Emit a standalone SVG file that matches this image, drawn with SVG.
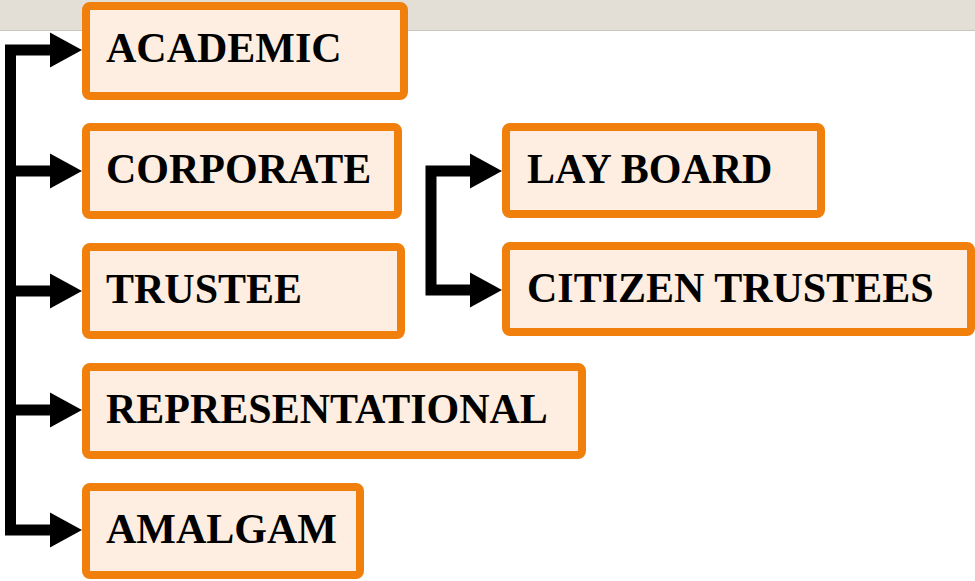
<svg xmlns="http://www.w3.org/2000/svg" width="975" height="581" viewBox="0 0 975 581">
<defs>
<style>
.box{fill:#fdeee1;stroke:#f07f0c;stroke-width:8}
.lbl{font-family:"Liberation Serif","Times New Roman",serif;font-weight:bold;font-size:42px;fill:#000}
.ln{fill:none;stroke:#000;stroke-width:11;stroke-linejoin:miter}
</style>
<polygon id="ah" points="0,-17.5 32,0 0,17.5" fill="#000"/>
</defs>
<rect x="0" y="0" width="975" height="30" fill="#e4dfd6"/>
<line x1="0" y1="30.5" x2="975" y2="30.5" stroke="#c9c5bd" stroke-width="1"/>
<g id="connectors">
<polyline class="ln" points="52,50 10.5,50 10.5,530 52,530"/>
<line class="ln" x1="10.5" y1="171" x2="52" y2="171"/>
<line class="ln" x1="10.5" y1="291" x2="52" y2="291"/>
<line class="ln" x1="10.5" y1="410" x2="52" y2="410"/>
<polyline class="ln" points="472,171 431,171 431,290 472,290"/>
<use href="#ah" x="50" y="50"/>
<use href="#ah" x="50" y="171"/>
<use href="#ah" x="50" y="291"/>
<use href="#ah" x="50" y="410"/>
<use href="#ah" x="50" y="530"/>
<use href="#ah" x="470" y="171"/>
<use href="#ah" x="470" y="290"/>
</g>
<g id="academic"><rect class="box" x="86" y="6" width="318" height="90" rx="4"/><text class="lbl" x="106" y="62">ACADEMIC</text></g>
<g id="corporate"><rect class="box" x="86" y="127" width="312" height="88" rx="4"/><text class="lbl" x="106" y="183">CORPORATE</text></g>
<g id="trustee"><rect class="box" x="86" y="247" width="315" height="88" rx="4"/><text class="lbl" x="106" y="303">TRUSTEE</text></g>
<g id="representational"><rect class="box" x="86" y="367" width="496" height="88" rx="4"/><text class="lbl" x="106" y="423">REPRESENTATIONAL</text></g>
<g id="amalgam"><rect class="box" x="86" y="487" width="274" height="88" rx="4"/><text class="lbl" x="106" y="543">AMALGAM</text></g>
<g id="lay-board"><rect class="box" x="506" y="127" width="315" height="87" rx="4"/><text class="lbl" x="527" y="183">LAY BOARD</text></g>
<g id="citizen-trustees"><rect class="box" x="506" y="246" width="465" height="86" rx="4"/><text class="lbl" x="527" y="302">CITIZEN TRUSTEES</text></g>
</svg>
